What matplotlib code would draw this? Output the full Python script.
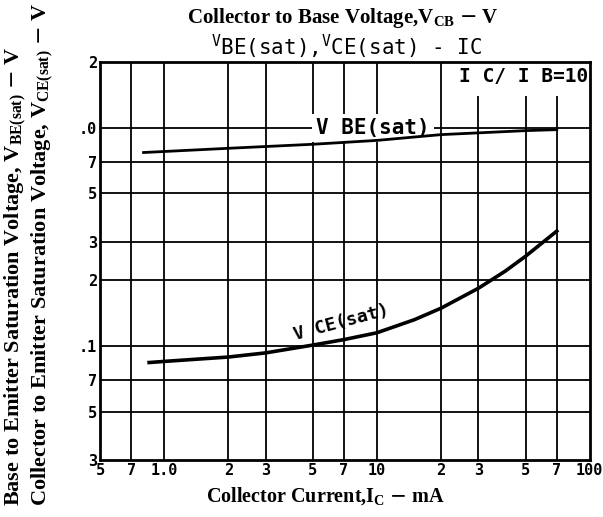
import matplotlib.pyplot as plt

# collector current (mA) and saturation voltages (V)
ic_vbe = [0.8, 2, 5, 10, 20, 50, 70]
vbe_sat = [0.77, 0.805, 0.84, 0.875, 0.93, 0.97, 0.98]

ic_vce = [0.85, 1, 2, 3, 5, 7, 10, 15, 20, 30, 40, 50, 70]
vce_sat = [0.084, 0.085, 0.089, 0.093, 0.101, 0.107, 0.115, 0.132, 0.149, 0.184, 0.22, 0.258, 0.336]

xticks = [0.5, 0.7, 1, 2, 3, 5, 7, 10, 20, 30, 50, 70, 100]
xlabels = ['5', '7', '1.0', '2', '3', '5', '7', '10', '2', '3', '5', '7', '100']
yticks = [2, 1, 0.7, 0.5, 0.3, 0.2, 0.1, 0.07, 0.05, 0.03]
ylabels = ['2', '.0', '7', '5', '3', '2', '.1', '7', '5', '3']

fig = plt.figure(figsize=(6.03, 5.17), dpi=100)
ax = fig.add_axes([0.166, 0.11, 0.812, 0.77])
ax.set_xscale('log')
ax.set_yscale('log')
ax.set_xlim(0.5, 100)
ax.set_ylim(0.03, 2)
ax.minorticks_off()

for x in xticks[1:-1]:
    ax.axvline(x, color='black', lw=1.3, zorder=1)
for y in yticks[1:-1]:
    ax.axhline(y, color='black', lw=1.3, zorder=1)

ax.plot(ic_vbe, vbe_sat, color='black', lw=2.0, zorder=3)
ax.plot(ic_vce, vce_sat, color='black', lw=2.6, zorder=3)

ax.set_xticks(xticks)
ax.set_xticklabels(xlabels, fontsize=11, fontweight='bold', family='DejaVu Sans Mono')
ax.set_yticks(yticks)
ax.set_yticklabels(ylabels, fontsize=11, fontweight='bold', family='DejaVu Sans Mono')
ax.tick_params(length=0, pad=2)
for s in ax.spines.values():
    s.set_linewidth(2)

# curve labels, with white boxes breaking the grid like the scan
ax.text(9.6, 1.0, 'V BE(sat)', fontsize=15, fontweight='bold', family='DejaVu Sans Mono',
        ha='center', va='center', zorder=2,
        bbox=dict(facecolor='white', edgecolor='none', pad=3))
ax.text(6.8, 0.128, 'V CE(sat)', fontsize=13, fontweight='bold', family='DejaVu Sans Mono',
        ha='center', va='center', rotation=15, zorder=2)
ax.text(98.5, 1.72, 'I C/ I B=10', fontsize=14, fontweight='bold', family='DejaVu Sans Mono',
        ha='right', va='center', zorder=2,
        bbox=dict(facecolor='white', edgecolor='none', pad=7))

fig.text(0.568, 0.965, 'Collector to Base Voltage,V$_{\\mathregular{CB}}$ $-$ V',
         fontsize=15, fontweight='bold', family='Liberation Serif', ha='center', va='center')
fig.text(0.575, 0.91, '$^{\\mathregular{V}}$BE(sat),$^{\\mathregular{V}}$CE(sat) - IC',
         fontsize=15, family='DejaVu Sans Mono', ha='center', va='center')
fig.text(0.54, 0.04, 'Collector Current,I$_{\\mathregular{C}}$ $-$ mA',
         fontsize=14.5, fontweight='bold', family='Liberation Serif', ha='center', va='center')

fig.text(0.027, 0.022, 'Base to Emitter Saturation Voltage, V$_{\\mathregular{BE(sat)}}$ $-$ V',
         fontsize=16, fontweight='bold', family='Liberation Serif', rotation=90,
         ha='center', va='bottom')
fig.text(0.071, 0.022, 'Collector to Emitter Saturation Voltage, V$_{\\mathregular{CE(sat)}}$ $-$ V',
         fontsize=16, fontweight='bold', family='Liberation Serif', rotation=90,
         ha='center', va='bottom')

fig.savefig('out.png', dpi=100)
